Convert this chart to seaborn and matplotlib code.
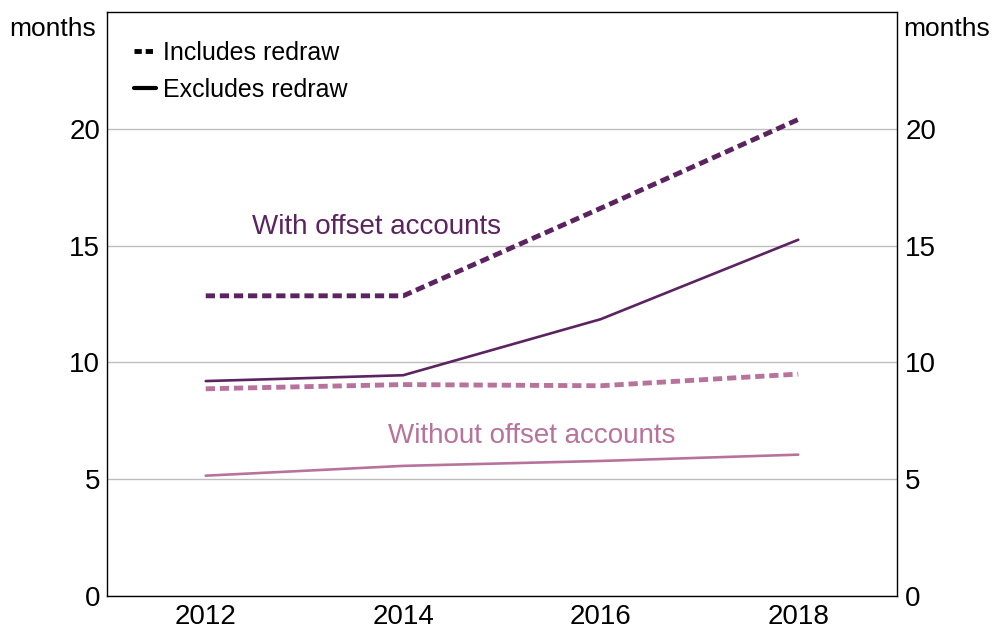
import matplotlib
matplotlib.use("Agg")
import matplotlib.pyplot as plt
from matplotlib.lines import Line2D
import pandas as pd
import seaborn as sns

years = [2012, 2014, 2016, 2018]
with_incl = [12.85, 12.85, 16.6, 20.4]
with_excl = [9.2, 9.45, 11.85, 15.25]
without_incl = [8.87, 9.05, 9.0, 9.5]
without_excl = [5.15, 5.57, 5.78, 6.05]

DARK = "#5c2361"
LIGHT = "#b8739d"

rows = []
for grp, redraw, vals in [
    ("With offset accounts", "Includes redraw", with_incl),
    ("With offset accounts", "Excludes redraw", with_excl),
    ("Without offset accounts", "Includes redraw", without_incl),
    ("Without offset accounts", "Excludes redraw", without_excl),
]:
    for y, v in zip(years, vals):
        rows.append({"year": y, "months": v, "group": grp, "redraw": redraw})
df = pd.DataFrame(rows)

sns.set_style("white")
plt.rcParams["font.family"] = ["Liberation Sans", "DejaVu Sans"]
plt.rcParams["text.color"] = "black"
plt.rcParams["xtick.color"] = "black"
plt.rcParams["ytick.color"] = "black"

fig = plt.figure(figsize=(9.98, 6.32), dpi=100)
ax = fig.add_axes([0.1072, 0.057, 0.7916, 0.924])

sns.lineplot(
    data=df, x="year", y="months", hue="group", style="redraw",
    palette={"With offset accounts": DARK, "Without offset accounts": LIGHT},
    dashes={"Includes redraw": (1.9, 1.0), "Excludes redraw": ""},
    legend=False, ax=ax,
)
for line in ax.get_lines():
    if line.get_linestyle() == "-":
        line.set_linewidth(1.9)
    else:
        line.set_linewidth(3.5)

ax.set_xlim(2011, 2019)
ax.set_ylim(0, 25)
ax.set_yticks([0, 5, 10, 15, 20])
ax.set_xticks(years)
ax.set_xticks([2013, 2015, 2017], minor=True)
ax.tick_params(axis="x", which="major", length=0, labelsize=20, pad=6)
ax.tick_params(axis="x", which="minor", direction="in", length=8, width=1, color="black")
ax.tick_params(axis="y", length=0, labelsize=20, pad=5)
ax.grid(axis="y", color="#bdbdbd", linewidth=1)
ax.set_axisbelow(True)
ax.set_xlabel("")
ax.set_ylabel("")
for s in ax.spines.values():
    s.set_color("black")
    s.set_linewidth(1)

ax2 = ax.twinx()
ax2.set_ylim(ax.get_ylim())
ax2.set_yticks([0, 5, 10, 15, 20])
ax2.tick_params(axis="y", length=0, labelsize=20, pad=6)
for s in ax2.spines.values():
    s.set_visible(False)

fig.text(0.009, 0.954, "months", fontsize=19, ha="left", va="center")
fig.text(0.905, 0.954, "months", fontsize=19, ha="left", va="center")

ax.text(2013.73, 15.78, "With offset accounts", color=DARK, fontsize=20, ha="center", va="center")
ax.text(2015.3, 6.87, "Without offset accounts", color=LIGHT, fontsize=20, ha="center", va="center")

# legend
handles = [
    Line2D([], [], color="black", linewidth=3.5, dashes=(1.5, 0.8)),
    Line2D([], [], color="black", linewidth=3.0),
]
ax.legend(handles, ["Includes redraw", "Excludes redraw"], loc="upper left",
          bbox_to_anchor=(0.012, 0.98), frameon=False, fontsize=18,
          handlelength=0.9, handletextpad=0.25, labelspacing=0.5, borderaxespad=0.3)

fig.savefig("out.png", dpi=100)
